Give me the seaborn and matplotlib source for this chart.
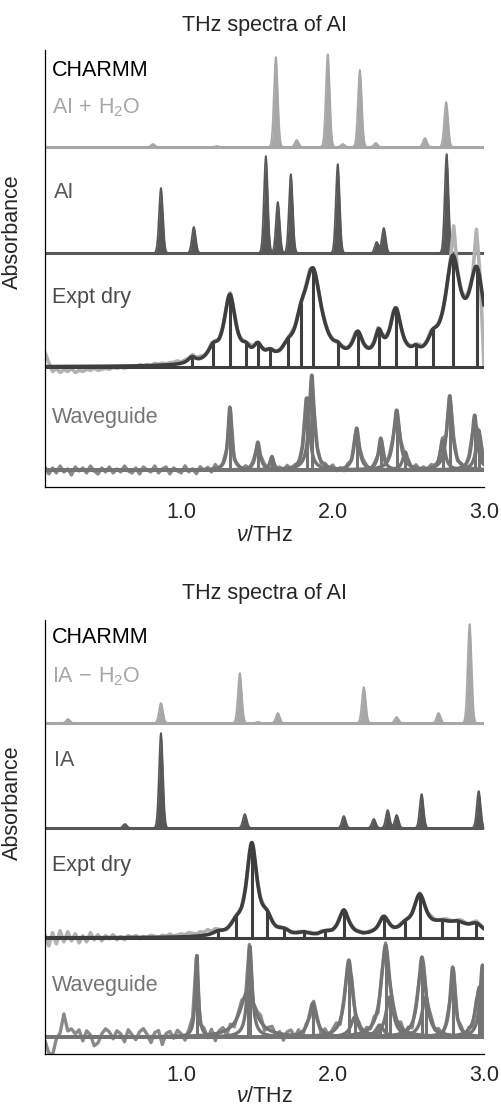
import numpy as np
import matplotlib.pyplot as plt
import seaborn as sns

sns.set_style("white")
plt.rcParams['font.family'] = ['Liberation Sans', 'DejaVu Sans']
plt.rcParams['mathtext.fontset'] = 'custom'
plt.rcParams['mathtext.rm'] = 'Liberation Sans'
plt.rcParams['mathtext.it'] = 'Liberation Sans:italic'

# ---- data (peak centres in THz, heights in px) ----
TICKS = [1.0, 2.0, 3.0]
TICK_LABELS = ["1.0", "2.0", "3.0"]

# top panel: AI
P1_H2O_CENTRES = [0.813, 1.235, 1.625, 1.763, 1.968, 2.067, 2.180, 2.285, 2.610, 2.750]
P1_H2O_HEIGHTS = [3, 1, 90, 7, 93, 3, 77, 4, 9, 45]
P1_AI_CENTRES = [0.866, 1.083, 1.559, 1.638, 1.724, 2.034, 2.291, 2.338, 2.753]
P1_AI_HEIGHTS = [65, 26, 97, 51, 79, 89, 11, 25, 99]
P1_DRY_CENTRES = [1.070, 1.209, 1.321, 1.427, 1.506, 1.585, 1.704, 1.790, 1.869,
                  2.034, 2.166, 2.305, 2.417, 2.549, 2.661, 2.793, 2.952]
P1_DRY_HEIGHTS = [6, 12, 68, 8, 14, 6, 8, 20, 92, 6, 26, 24, 51, 6, 14, 98, 87]
P1_DRY_WIDTHS = [0.03, 0.04, 0.046, 0.03, 0.035, 0.03, 0.04, 0.04, 0.07,
                 0.03, 0.04, 0.03, 0.045, 0.03, 0.04, 0.06, 0.06]
P1_WG_CENTRES = [1.321, 1.506, 1.598, 1.830, 1.862, 2.159, 2.318, 2.423, 2.480,
                 2.727, 2.773, 2.938, 2.965]
P1_WG_HEIGHTS = [63, 28, 13, 72, 95, 42, 32, 60, 18, 30, 74, 55, 40]
P1_WG_WIDTHS = [0.015, 0.018, 0.015, 0.02, 0.02, 0.02, 0.018, 0.025, 0.02,
                0.02, 0.022, 0.02, 0.02]

# bottom panel: IA
P2_H2O_CENTRES = [0.252, 0.866, 1.387, 1.506, 1.638, 2.206, 2.423, 2.700, 2.905]
P2_H2O_HEIGHTS = [4, 20, 50, 1, 10, 36, 6, 10, 99]
P2_IA_CENTRES = [0.628, 0.866, 1.420, 2.074, 2.272, 2.364, 2.423, 2.588, 2.965]
P2_IA_HEIGHTS = [4, 95, 14, 12, 9, 18, 13, 34, 37]
P2_DRY_CENTRES = [1.242, 1.360, 1.466, 1.565, 1.678, 1.810, 1.948, 2.074,
                  2.338, 2.476, 2.575, 2.720, 2.828, 2.950]
P2_DRY_HEIGHTS = [3, 8, 92, 13, 4, 3, 3, 26, 18, 6, 39, 9, 10, 10]
P2_DRY_WIDTHS = [0.04, 0.04, 0.042, 0.04, 0.04, 0.04, 0.04, 0.04,
                 0.04, 0.04, 0.05, 0.08, 0.08, 0.06]
P2_WG_CENTRES = [1.103, 1.440, 1.453, 1.869, 2.107, 2.146, 2.311, 2.350, 2.377,
                 2.590, 2.615, 2.793, 2.970, 2.990]
P2_WG_HEIGHTS = [82, 46, 91, 34, 77, 20, 12, 92, 40, 80, 40, 70, 50, 72]
P2_WG_WIDTHS = [0.012, 0.06, 0.018, 0.03, 0.03, 0.03, 0.03, 0.035, 0.03,
                0.03, 0.03, 0.02, 0.03, 0.02]

# raw-trace deviations from the fit, every 0.025 THz from 0.1 to 3.0 (px)
P1_DRY_NOISE = [14, 4, -5, -2, -6, -3, -5, -2, -6, -4,
                -5, -3, -4, -2, -4, -3, -2, -3, -1, -2,
                -1, -2, -1, 0, -1, 1, 0, 1, 0, 2,
                1, 2, 1, 2, 2, 3, 1, 2, 1, 2,
                1, 2, 1, 0, 2, 1, -1, 1, 0, 2,
                1, -1, 1, 0, 2, 1, 0, -1, 1, 0,
                1, 0, -1, 1, 0, 2, 1, 0, -1, 2,
                3, 1, 0, -1, 1, 0, 1, -1, 0, 1,
                0, 1, 2, 0, -1, 1, 0, 1, 2, 0,
                1, 0, 2, 1, 0, -1, 1, 0, 1, 2,
                0, 1, 2, 0, 1, 0, -1, 1, 30, 2,
                1, 0, 2, 1, 37, 3, -60]
P1_WG_NOISE = [3, -4, 2, -3, 4, -2, 1, -5, 3, -1,
               2, -3, 4, -1, -4, 2, -2, 3, -3, 1,
               -2, 4, -1, -3, 2, -4, 3, 0, -2, 4,
               -3, 1, 3, -4, 2, -1, -3, 4, -2, 1,
               -4, 3, -1, 2, -3, 4, -2, 1, -1, 2,
               -3, 1, -2, 3, -1, 2, -3, 1, 2, -2,
               1, -3, 2, -1, 3, -2, 1, -2, 2, 4,
               2, -3, 1, -2, 2, -1, 3, -2, 1, -3,
               2, -1, 1, -2, 3, 1, -2, 2, -1, 1,
               -2, 2, 1, -3, 2, -1, 1, -2, 3, -1,
               2, -1, 3, 1, -2, 2, -1, 1, 3, -2,
               1, -2, 2, -1, 3, 1, -2]
P2_DRY_NOISE = [3, -8, 5, -6, 7, -4, 6, -3, 4, -5,
                2, -4, 5, -2, 3, -3, 2, -1, 3, -2,
                1, -2, 2, 0, 2, -1, 1, 0, 2, 1,
                0, 2, 1, 3, 1, 2, 3, 2, 4, 3,
                2, 4, 3, 5, 2, 3, 1, 0, -1, 1,
                0, 1, -1, 0, 1, 0, -1, 1, 0, 1,
                0, -1, 1, 0, 1, -1, 0, 1, 0, -1,
                1, 0, -1, 1, 0, 1, -1, 0, 1, 0,
                -1, 1, 0, 1, -1, 0, 1, 0, -1, 1,
                0, 1, -1, 0, 1, 0, 1, -1, 0, 1,
                1, 0, 2, 1, 0, 1, 2, 1, 0, 1,
                2, 1, 0, 1, 2, 1, 0]
P2_WG_NOISE = [-4, -16, -18, -2, 4, 23, 6, 8, 3, 7,
               -4, 6, 2, -9, -6, 3, 8, 5, -2, 6,
               3, -5, 7, 2, -3, 5, 8, 2, -6, 4,
               6, -8, 3, 5, -2, 6, 2, -5, 3, 7,
               2, -6, 4, -3, 5, -7, 2, 4, -5, 3,
               -4, 2, 5, -3, 4, -2, 3, 6, -4, 2,
               5, -3, 2, -6, 3, 5, -2, 4, -5, 2,
               -4, 3, 2, -5, 4, -3, 2, 5, -4, 3,
               -2, 4, -3, 2, -5, 3, -2, 4, -6, 3,
               2, -4, 3, -2, 5, -3, 2, -5, 3, -4,
               2, -3, 4, -2, 3, -5, 2, -3, 4, -2,
               3, -4, 2, -5, 3, -2, 4]

# ---- colours ----
C_H2O = "#a7a7a7"
C_DRUG = "#585858"
C_FIT = "#3e3e3e"
C_RAW = "#b2b2b2"
C_WG = "#747474"
C_WG_RAW = "#8a8a8a"
FS = 15.5

NU = np.linspace(0.1, 3.0, 1500)
RAW_NU = np.round(0.1 + 0.025 * np.arange(len(P1_DRY_NOISE)), 4)


def gauss(x, c, h, s=0.013):
    return h * np.exp(-0.5 * ((x - c) / s) ** 2)


def lorentz(x, c, h, g):
    return h / (1.0 + ((x - c) / g) ** 2)


def draw_charmm(ax, base, centres, heights, colour):
    y = sum(gauss(NU, c, h) for c, h in zip(centres, heights))
    ax.fill_between(NU, base, base + y, color=colour, lw=0)
    sns.lineplot(x=NU, y=base + y, ax=ax, color=colour, lw=1.2)
    ax.axhline(base, color=colour, lw=2.2)


def draw_dry(ax, base, centres, heights, widths, noise):
    comps = list(zip(centres, heights, widths))
    fit = sum(lorentz(NU, c, h, g) for c, h, g in comps)
    raw = sum(lorentz(RAW_NU, c, h, g) for c, h, g in comps) + np.array(noise)
    sns.lineplot(x=RAW_NU, y=base + raw, ax=ax, color=C_RAW, lw=2.6)
    ax.axhline(base, color=C_FIT, lw=2.2)
    stick_top = [sum(lorentz(c0, c, h, g) for c, h, g in comps) for c0 in centres]
    ax.vlines(centres, base, base + np.array(stick_top), color=C_FIT, lw=2.2)
    sns.lineplot(x=NU, y=base + fit, ax=ax, color=C_FIT, lw=2.6)


def draw_wg(ax, base, centres, heights, widths, noise):
    comps = list(zip(centres, heights, widths))
    # raw trace follows the envelope of the fitted bands
    env = np.max([lorentz(RAW_NU, c, h, g) for c, h, g in comps], axis=0)
    raw = env + np.array(noise)
    sns.lineplot(x=RAW_NU, y=base + raw, ax=ax, color=C_WG_RAW, lw=2.4)
    ax.axhline(base, color="#6a6a6a", lw=2.0)
    for c, h, g in comps:
        sns.lineplot(x=NU, y=base + lorentz(NU, c, h, g), ax=ax, color=C_WG, lw=2.4)
    ax.vlines(centres, base, base + np.array(heights), color=C_WG, lw=2.2)


def style_axes(ax, height, label_y, title_pad, tick_pad, xlabel_pad):
    ax.set_xlim(0.1, 3.0)
    ax.set_ylim(0, height)
    ax.set_xticks(TICKS)
    ax.set_xticklabels(TICK_LABELS)
    ax.set_yticks([])
    for side in ["top", "right"]:
        ax.spines[side].set_visible(False)
    for side in ["left", "bottom"]:
        ax.spines[side].set_color("black")
        ax.spines[side].set_linewidth(0.9)
    ax.tick_params(axis="x", direction="out", length=5.5, width=0.9,
                   color="black", labelsize=FS, pad=tick_pad)
    ax.set_xlabel(r"$\nu$/THz", fontsize=FS, labelpad=xlabel_pad)
    ax.set_ylabel("Absorbance", fontsize=FS)
    ax.yaxis.set_label_coords(-0.05, label_y)
    ax.set_title("THz spectra of AI", fontsize=FS, pad=title_pad)


fig = plt.figure(figsize=(5.02, 11.08), dpi=100)

# top panel
ax1 = fig.add_axes([45 / 502, (1108 - 487) / 1108, 439 / 502, 437 / 1108])
draw_charmm(ax1, 340, P1_H2O_CENTRES, P1_H2O_HEIGHTS, C_H2O)
draw_charmm(ax1, 234, P1_AI_CENTRES, P1_AI_HEIGHTS, C_DRUG)
draw_dry(ax1, 120, P1_DRY_CENTRES, P1_DRY_HEIGHTS, P1_DRY_WIDTHS, P1_DRY_NOISE)
draw_wg(ax1, 17, P1_WG_CENTRES, P1_WG_HEIGHTS, P1_WG_WIDTHS, P1_WG_NOISE)
ax1.text(0.146, 417, "CHARMM", fontsize=FS, color="black", va="center")
ax1.text(0.146, 379, r"AI$\,+\,$H$_2$O", fontsize=FS, color=C_H2O, va="center")
ax1.text(0.16, 294, "AI", fontsize=FS, color=C_DRUG, va="center")
ax1.text(0.146, 190, "Expt dry", fontsize=FS, color="#4a4a4a", va="center")
ax1.text(0.146, 70, "Waveguide", fontsize=FS, color=C_WG, va="center")
style_axes(ax1, 437, 0.584, 14, 5, 2)

# bottom panel
ax2 = fig.add_axes([45 / 502, (1108 - 1054) / 1108, 439 / 502, 434 / 1108])
draw_charmm(ax2, 331, P2_H2O_CENTRES, P2_H2O_HEIGHTS, C_H2O)
draw_charmm(ax2, 226, P2_IA_CENTRES, P2_IA_HEIGHTS, C_DRUG)
draw_dry(ax2, 116, P2_DRY_CENTRES, P2_DRY_HEIGHTS, P2_DRY_WIDTHS, P2_DRY_NOISE)
draw_wg(ax2, 17, P2_WG_CENTRES, P2_WG_HEIGHTS, P2_WG_WIDTHS, P2_WG_NOISE)
ax2.text(0.146, 416, "CHARMM", fontsize=FS, color="black", va="center")
ax2.text(0.146, 377, r"IA$\,-\,$H$_2$O", fontsize=FS, color=C_H2O, va="center")
ax2.text(0.16, 293, "IA", fontsize=FS, color=C_DRUG, va="center")
ax2.text(0.146, 189, "Expt dry", fontsize=FS, color="#4a4a4a", va="center")
ax2.text(0.146, 69, "Waveguide", fontsize=FS, color=C_WG, va="center")
style_axes(ax2, 434, 0.578, 15, 2.5, 0)

fig.savefig("out.png", dpi=100)
